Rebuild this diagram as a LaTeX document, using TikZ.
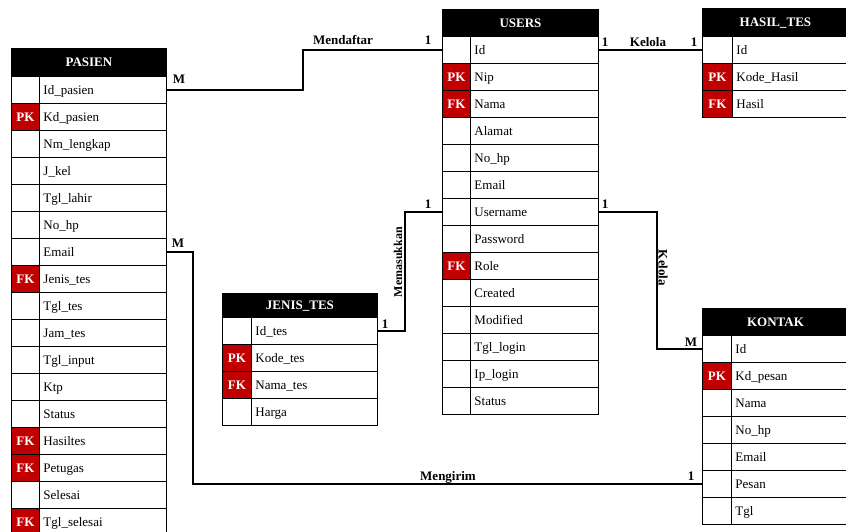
\documentclass[tikz,border=0pt]{standalone}
\usepackage{fontspec}
\setmainfont{Liberation Serif}
\definecolor{keyred}{HTML}{C00000}
\newcommand{\rowstrut}{\rule[-3pt]{0pt}{15pt}}
\tikzset{
 hdr/.style={draw=black, fill=black, text=white, font=\fontsize{13}{15}\selectfont\bfseries, inner sep=0pt, anchor=north west, line width=0.9pt},
 nk/.style={draw=black, fill=white, line width=0.9pt, inner sep=0pt, anchor=north west},
 rk/.style={nk, fill=keyred, text=white, font=\fontsize{13}{15}\selectfont\bfseries},
 fld/.style={draw=black, line width=0.9pt, inner xsep=4pt, inner ysep=0pt, anchor=north west, align=left, font=\fontsize{13}{15}\selectfont},
 conn/.style={draw=black, line width=1.6pt},
 lbl/.style={font=\fontsize{13}{15}\selectfont\bfseries, inner sep=0pt},
}
\newcommand{\ertable}[8]{%
 \node[hdr, minimum width=#4pt, minimum height=#6pt] (#1) at (#2,#3) {\rowstrut#7};
 \foreach[count=\i] \s/\k/\f in {#8} {
   \pgfmathsetmacro{\yy}{#3+#6+(\i-1)*27}
   \pgfmathsetmacro{\fw}{#4-#5}
   \pgfmathsetmacro{\tw}{#4-#5-8}
   \pgfmathsetmacro{\fx}{#2+#5}
   \node[\s, minimum width=#5pt, minimum height=27pt] (#1-k\i) at (#2,\yy) {\rowstrut\k};
   \node[fld, minimum width=\fw pt, text width=\tw pt, minimum height=27pt] (#1-f\i) at (\fx,\yy) {\rowstrut\f};
 }
}
\begin{document}
\begin{tikzpicture}[x=1pt,y=-1pt]
\useasboundingbox (0,0) rectangle (846,532);
% tables
\ertable{pasien}{11}{48}{155}{28}{28}{PASIEN}{nk//Id\_pasien, rk/PK/Kd\_pasien, nk//Nm\_lengkap, nk//J\_kel, nk//Tgl\_lahir, nk//No\_hp, nk//Email, rk/FK/Jenis\_tes, nk//Tgl\_tes, nk//Jam\_tes, nk//Tgl\_input, nk//Ktp, nk//Status, rk/FK/Hasiltes, rk/FK/Petugas, nk//Selesai, rk/FK/Tgl\_selesai}
\ertable{users}{442}{9}{156}{28}{27}{USERS}{nk//Id, rk/PK/Nip, rk/FK/Nama, nk//Alamat, nk//No\_hp, nk//Email, nk//Username, nk//Password, rk/FK/Role, nk//Created, nk//Modified, nk//Tgl\_login, nk//Ip\_login, nk//Status}
\ertable{hasil}{702}{8}{146}{30}{28}{HASIL\_TES}{nk//Id, rk/PK/Kode\_Hasil, rk/FK/Hasil}
\ertable{jenis}{222}{293}{155}{29}{24}{JENIS\_TES}{nk//Id\_tes, rk/PK/Kode\_tes, rk/FK/Nama\_tes, nk//Harga}
\ertable{kontak}{702}{308}{146}{29}{27}{KONTAK}{nk//Id, rk/PK/Kd\_pesan, nk//Nama, nk//No\_hp, nk//Email, nk//Pesan, nk//Tgl}
% bend coordinates
\coordinate (bMendaftar) at (303,70);
\coordinate (bMemasukkan) at (405,270);
\coordinate (bKelola) at (657,280);
\coordinate (bMengirim) at (193,370);
% connectors
\draw[conn] (pasien-f1.east) -| (bMendaftar) |- (users-k1.west);
\draw[conn] (users-f1.east) -- (hasil-k1.west);
\draw[conn] (jenis-f1.east) -| (bMemasukkan) |- (users-k7.west);
\draw[conn] (users-f7.east) -| (bKelola) |- (kontak-k1.west);
\draw[conn] (pasien-f7.east) -| (bMengirim) |- (kontak-k6.west);
% labels
\node[lbl] (m1) at (179,79) {M};
\node[lbl] (lMendaftar) at (343,40) {Mendaftar};
\node[lbl] (o1) at (428,40) {1};
\node[lbl] (o2) at (605,42) {1};
\node[lbl] (lKelola1) at (648,42) {Kelola};
\node[lbl] (o3) at (694,42) {1};
\node[lbl] (o4) at (385,324) {1};
\node[lbl] (o5) at (428,204) {1};
\node[lbl, rotate=90, font=\fontsize{12}{14}\selectfont\bfseries] (lMemasukkan) at (398,262) {Memasukkan};
\node[lbl] (o6) at (605,204) {1};
\node[lbl, rotate=-90] (lKelola2) at (663,268) {Kelola};
\node[lbl] (m2) at (691,342) {M};
\node[lbl] (m3) at (178,243) {M};
\node[lbl] (lMengirim) at (448,477) {Mengirim};
\node[lbl] (o7) at (691,476) {1};
\end{tikzpicture}
\end{document}
